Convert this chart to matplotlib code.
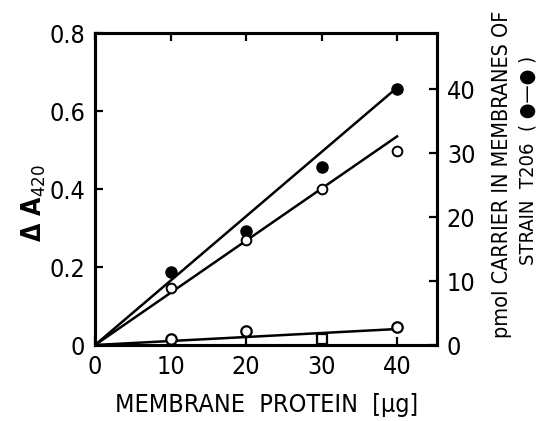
import matplotlib
matplotlib.use("Agg")
import matplotlib.pyplot as plt

plt.rcParams["font.family"] = ["DejaVu Sans"]
plt.rcParams["font.stretch"] = "condensed"

# membrane protein (ug)
protein = [10, 20, 30, 40]
dA_filled = [0.187, 0.292, 0.457, 0.656]   # strain T206 (filled circles)
dA_open = [0.146, 0.270, 0.400, 0.497]     # open circles
low_circle_x = [10, 20, 40]
low_circle_y = [0.015, 0.036, 0.046]
low_square_x = [30]
low_square_y = [0.015]

# fitted lines through origin
fit_x = [0, 40]
fit_filled = [0, 0.66]
fit_open = [0, 0.535]
fit_low = [0, 0.041]

xticks = [0, 10, 20, 30, 40]
yticks = [0, 0.2, 0.4, 0.6, 0.8]
yticklabels = ["0", "0.2", "0.4", "0.6", "0.8"]
rticks = [0, 10, 20, 30, 40]

fig = plt.figure(figsize=(5.43, 4.21), dpi=100)
ax = fig.add_axes([0.175, 0.1805, 0.63, 0.741])

lw = 1.8
ax.plot(fit_x, fit_filled, color="black", lw=lw)
ax.plot(fit_x, fit_open, color="black", lw=lw)
ax.plot(fit_x, fit_low, color="black", lw=lw)
ax.plot(protein, dA_filled, "o", color="black", ms=8, zorder=3)
ax.plot(protein, dA_open, "o", mfc="white", mec="black", mew=1.4, ms=7, zorder=3)
ax.plot(low_circle_x, low_circle_y, "o", mfc="white", mec="black", mew=1.6, ms=7.5, zorder=3)
ax.plot(low_square_x, low_square_y, "s", mfc="white", mec="black", mew=1.6, ms=7, zorder=3)

ax.set_xlim(0, 45.3)
ax.set_ylim(0, 0.8)
ax.set_xticks(xticks)
ax.set_yticks(yticks)
ax.set_yticklabels(yticklabels)
ax.tick_params(axis="both", direction="in", length=6, width=1.6, labelsize=18, pad=7)
ax.tick_params(axis="x", top=True)
for sp in ax.spines.values():
    sp.set_linewidth(2.2)

rax = ax.twinx()
rax.set_ylim(0, 48.75)
rax.set_yticks(rticks)
rax.tick_params(axis="y", direction="in", length=6, width=1.6, labelsize=18, pad=7)
for sp in rax.spines.values():
    sp.set_linewidth(2.2)

ax.set_xlabel("MEMBRANE  PROTEIN  [\u03bcg]", fontsize=18, labelpad=10)
fig.text(0.062, 0.518, "\u0394 A$_{420}$", rotation=90, fontsize=19,
         ha="center", va="center", fontweight="bold")
fig.text(0.925, 0.585, "pmol CARRIER IN MEMBRANES OF", rotation=90,
         fontsize=15.5, ha="center", va="center")
fig.text(0.972, 0.62, "STRAIN  T206  ( \u25cf\u2014\u25cf )", rotation=90,
         fontsize=14.5, ha="center", va="center")

fig.savefig("out.png", dpi=100)
